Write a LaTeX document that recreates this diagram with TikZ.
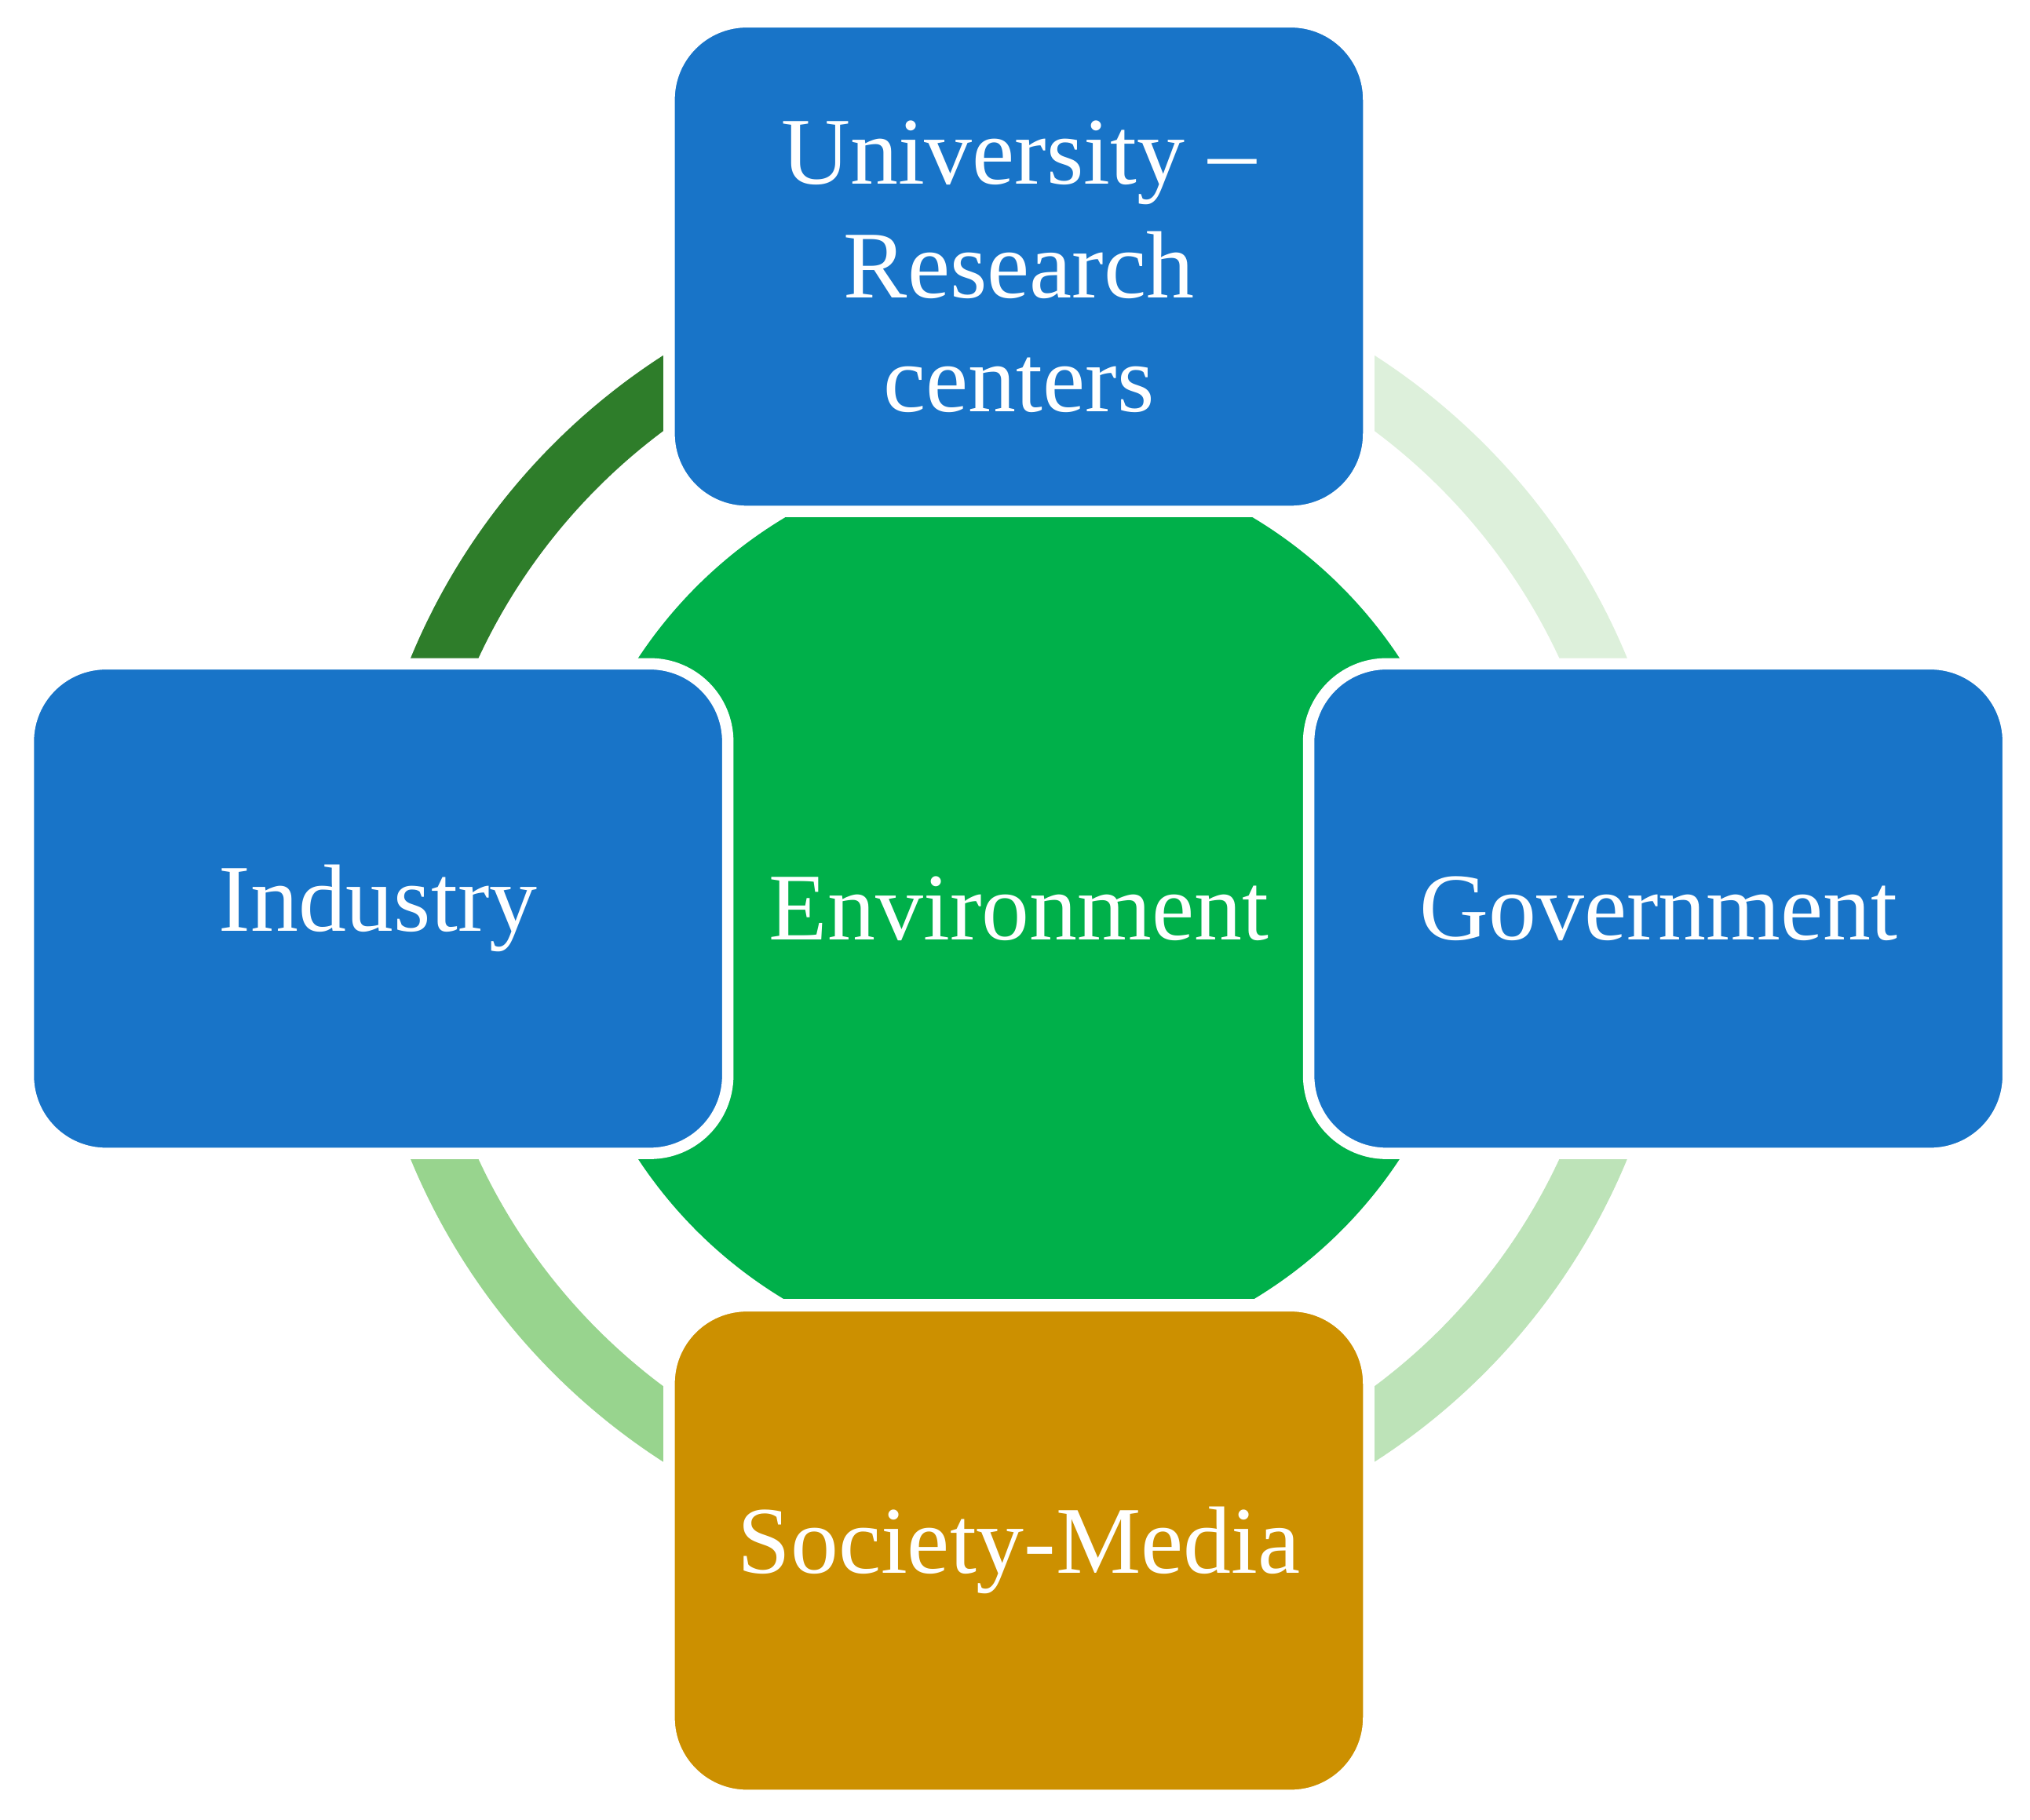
\documentclass[tikz,border=0pt]{standalone}
\usepackage{fontspec}
\setmainfont{Liberation Serif}
\definecolor{boxblue}{HTML}{1874C8}
\definecolor{boxgold}{HTML}{CC9000}
\definecolor{envgreen}{HTML}{00B04A}
\definecolor{qa}{HTML}{2E7D2A}
\definecolor{qb}{HTML}{DDF0DB}
\definecolor{qc}{HTML}{BDE3B8}
\definecolor{qd}{HTML}{98D48E}
\begin{document}
\begin{tikzpicture}[x=0.01cm,y=0.01cm,
  actor/.style={draw=white,line width=2.5pt,rounded corners=0.6cm,minimum width=5.4cm,minimum height=3.78cm,text=white,align=center,font=\fontsize{21}{25}\selectfont,inner sep=0pt},
  ring/.style={line width=0.48cm}]
\useasboundingbox (0,0) rectangle (1568,1406);
\coordinate (c) at (787,704);
\draw[ring,qa] (c) ++(90:484) arc (90:180:484);
\draw[ring,qb] (c) ++(0:484) arc (0:90:484);
\draw[ring,qc] (c) ++(270:484) arc (270:360:484);
\draw[ring,qd] (c) ++(180:484) arc (180:270:484);
\begin{scope}
\clip (0,403) rectangle (1568,1006);
\fill[envgreen] (c) circle (352);
\end{scope}
\node[font=\fontsize{21}{25}\selectfont,text=white] (env) at (787,704) {Environment};
\node[actor,fill=boxblue] (uni) at (787,1200) {University –\\Research\\centers};
\node[actor,fill=boxblue] (ind) at (292,704) {Industry};
\node[actor,fill=boxblue] (gov) at (1281,704) {Government};
\node[actor,fill=boxgold] (soc) at (787,208) {Society-Media};
\end{tikzpicture}
\end{document}
